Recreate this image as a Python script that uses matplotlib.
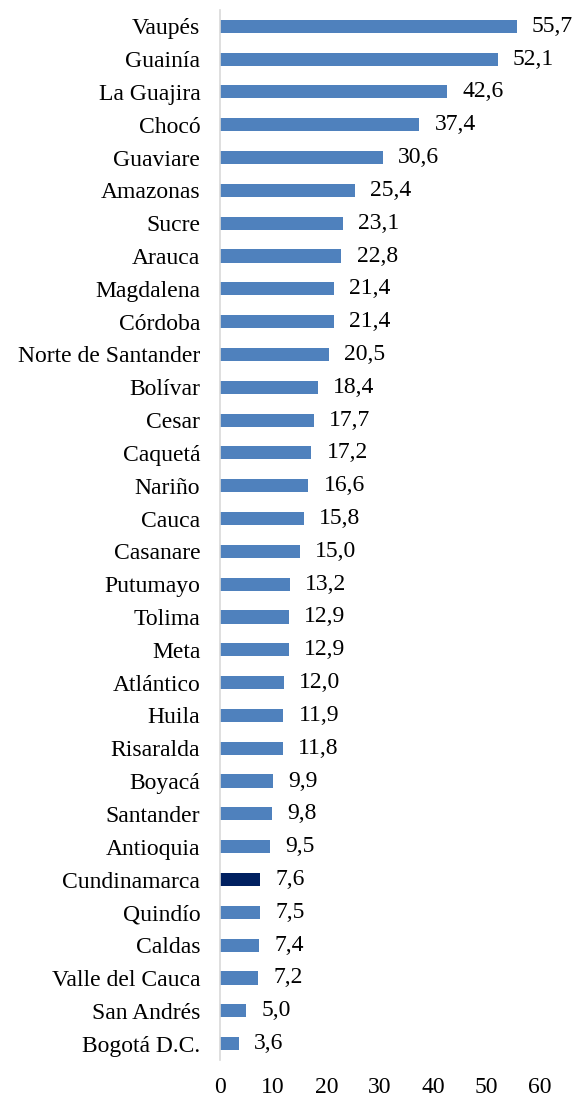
import matplotlib.pyplot as plt

plt.rcParams['font.family'] = ['Liberation Serif', 'DejaVu Serif']

departments = [
    "Vaupés", "Guainía", "La Guajira", "Chocó", "Guaviare", "Amazonas",
    "Sucre", "Arauca", "Magdalena", "Córdoba", "Norte de Santander",
    "Bolívar", "Cesar", "Caquetá", "Nariño", "Cauca", "Casanare",
    "Putumayo", "Tolima", "Meta", "Atlántico", "Huila", "Risaralda",
    "Boyacá", "Santander", "Antioquia", "Cundinamarca", "Quindío",
    "Caldas", "Valle del Cauca", "San Andrés", "Bogotá D.C.",
]
values = [
    55.7, 52.1, 42.6, 37.4, 30.6, 25.4, 23.1, 22.8, 21.4, 21.4, 20.5,
    18.4, 17.7, 17.2, 16.6, 15.8, 15.0, 13.2, 12.9, 12.9, 12.0, 11.9,
    11.8, 9.9, 9.8, 9.5, 7.6, 7.5, 7.4, 7.2, 5.0, 3.6,
]
highlight = "Cundinamarca"
x_ticks = [0, 10, 20, 30, 40, 50, 60]

fig = plt.figure(figsize=(5.86, 10.99), dpi=100)
ax = fig.add_axes([0.375, 0.0355, 0.546, 0.9555])

colors = ["#002060" if d == highlight else "#4F81BD" for d in departments]
ypos = list(range(len(departments)))
ax.barh(ypos, values, height=0.4, color=colors)

for y, v in zip(ypos, values):
    ax.annotate(f"{v:.1f}".replace(".", ","), (v, y), xytext=(11, 0),
                textcoords="offset points", va="center", ha="left", fontsize=17)

ax.set_yticks(ypos)
ax.set_yticklabels(departments, fontsize=17)
ax.set_ylim(len(departments) - 0.5, -0.5)
ax.set_xlim(0, 60)
ax.set_xticks(x_ticks)
ax.set_xticklabels([str(t) for t in x_ticks], fontsize=17)
ax.tick_params(axis="both", length=0)
ax.tick_params(axis="y", pad=14)
ax.tick_params(axis="x", pad=12)

for side in ["top", "right", "bottom"]:
    ax.spines[side].set_visible(False)
ax.spines["left"].set_color("#D9D9D9")
ax.spines["left"].set_linewidth(1.2)

fig.savefig("out.png", dpi=100)
